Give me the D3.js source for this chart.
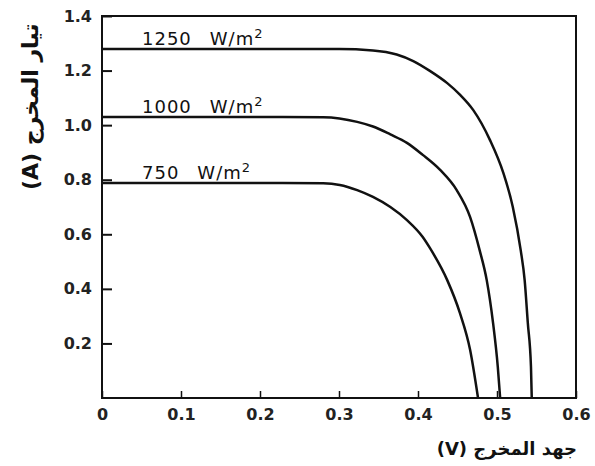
<!DOCTYPE html>
<html>
<head>
<meta charset="utf-8">
<script src="https://cdn.jsdelivr.net/npm/d3@7"></script>
<style>
  body { margin: 0; background: #fff; }
  svg { display: block; }
  .tick text { font-family: "DejaVu Sans", sans-serif; font-weight: bold; font-size: 16px; fill: #222; }
</style>
</head>
<body>
<svg id="chart" width="595" height="466"></svg>
<script>
// irradiance levels and I-V curves
const levels = ['1250', '1000', '750'];
const volts1250 = [0, 0.20, 0.30, 0.343, 0.373, 0.394, 0.415, 0.437, 0.453, 0.470, 0.491, 0.508, 0.520, 0.530, 0.535, 0.539, 0.543, 0.544];
const amps1250  = [1.279, 1.279, 1.279, 1.274, 1.259, 1.235, 1.199, 1.154, 1.112, 1.055, 0.946, 0.825, 0.700, 0.542, 0.432, 0.275, 0.114, 0];
const volts1000 = [0, 0.20, 0.280, 0.323, 0.343, 0.365, 0.386, 0.406, 0.428, 0.449, 0.466, 0.478, 0.487, 0.495, 0.501, 0.504];
const amps1000  = [1.03, 1.03, 1.029, 1.012, 0.995, 0.966, 0.935, 0.891, 0.836, 0.762, 0.663, 0.542, 0.432, 0.275, 0.114, 0];
const volts750  = [0, 0.20, 0.280, 0.301, 0.323, 0.343, 0.365, 0.386, 0.406, 0.415, 0.437, 0.453, 0.466, 0.476];
const amps750   = [0.788, 0.788, 0.787, 0.781, 0.762, 0.737, 0.700, 0.652, 0.590, 0.550, 0.432, 0.312, 0.176, 0];
const xTicks = [0, 0.1, 0.2, 0.3, 0.4, 0.5, 0.6];
const yTicks = [0.2, 0.4, 0.6, 0.8, 1.0, 1.2, 1.4];

const svg = d3.select('#chart');
const m_left = 102, m_right = 576, m_top = 16, m_bottom = 398;

const x = d3.scaleLinear().domain([0, 0.6]).range([m_left, m_right]);
const y = d3.scaleLinear().domain([0, 1.4]).range([m_bottom, m_top]);

// axes, ticks pointing inward
svg.append('g')
    .attr('transform', `translate(0, ${m_bottom})`)
    .call(d3.axisBottom(x).tickValues(xTicks).tickSize(-7).tickPadding(11)
        .tickFormat(d => d === 0 ? '0' : d3.format('.1f')(d)))
    .call(g => g.select('.domain').remove())
    .call(g => g.selectAll('.tick line').attr('stroke', '#111').attr('stroke-width', 1.5));

svg.append('g')
    .attr('transform', `translate(${m_left}, 0)`)
    .call(d3.axisLeft(y).tickValues(yTicks).tickSize(-10).tickPadding(10)
        .tickFormat(d3.format('.1f')))
    .call(g => g.select('.domain').remove())
    .call(g => g.selectAll('.tick line').attr('stroke', '#111').attr('stroke-width', 2));

// frame
svg.append('rect')
    .attr('x', m_left).attr('y', m_top)
    .attr('width', m_right - m_left).attr('height', m_bottom - m_top)
    .attr('fill', 'none').attr('stroke', '#111').attr('stroke-width', 2);

// curves
const curves = [
    {level: levels[0], v: volts1250, i: amps1250},
    {level: levels[1], v: volts1000, i: amps1000},
    {level: levels[2], v: volts750, i: amps750}
];

const line = d3.line()
    .x(d => x(d[0]))
    .y(d => y(d[1]))
    .curve(d3.curveMonotoneX);

curves.forEach(c => {
    svg.append('path')
        .datum(c.v.map((v, k) => [v, c.i[k]]))
        .attr('d', line)
        .attr('fill', 'none')
        .attr('stroke', '#111')
        .attr('stroke-width', 2.5);

    const lbl = svg.append('text')
        .attr('x', x(0) + 40)
        .attr('y', y(c.i[0]) - 4)
        .attr('font-family', '"DejaVu Sans", sans-serif')
        .attr('font-size', 18)
        .attr('letter-spacing', 1)
        .attr('fill', '#111');
    lbl.append('tspan').text(c.level);
    lbl.append('tspan').text('W/m').attr('dx', 18);
    lbl.append('tspan').text('2').attr('font-size', 13).attr('dy', -7);
});

// axis titles
svg.append('text')
    .attr('x', 577).attr('y', 455)
    .attr('text-anchor', 'start')
    .attr('direction', 'rtl')
    .attr('font-family', '"DejaVu Sans", sans-serif')
    .attr('font-weight', 'bold')
    .attr('font-size', 18)
    .attr('fill', '#111')
    .text('جهد المخرج (V)');

svg.append('text')
    .attr('transform', 'translate(38, 190) rotate(-90)')
    .attr('text-anchor', 'start')
    .attr('font-family', '"DejaVu Sans", sans-serif')
    .attr('font-weight', 'bold')
    .attr('font-size', 22)
    .attr('fill', '#111')
    .text('(A) تيار المخرج');
</script>
</body>
</html>
